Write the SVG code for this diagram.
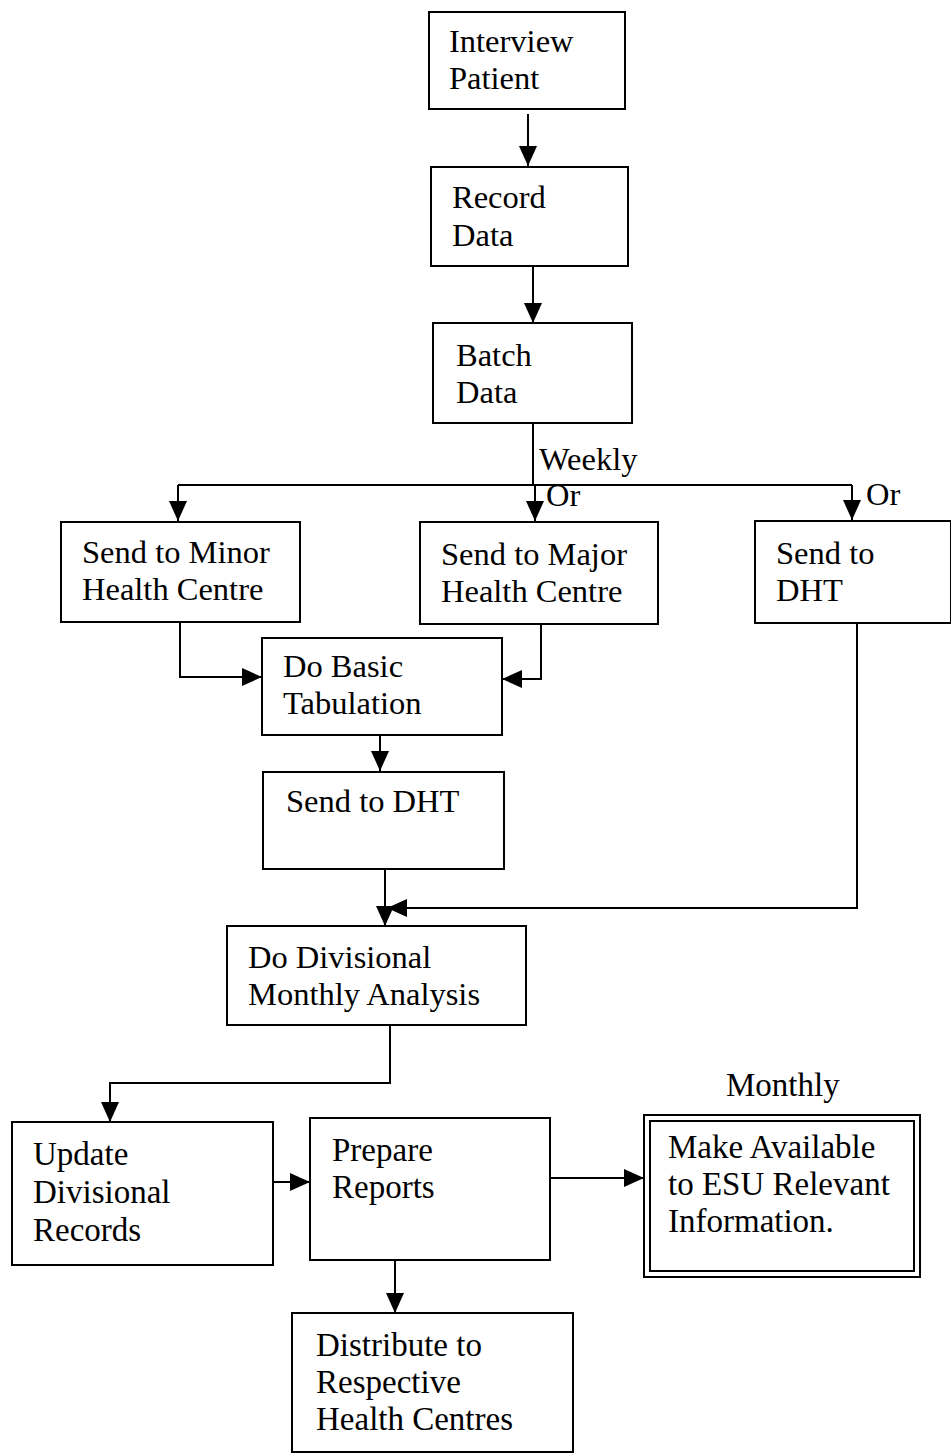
<svg xmlns="http://www.w3.org/2000/svg" width="951" height="1453" viewBox="0 0 951 1453">
  <style>
    .box { fill: #ffffff; stroke: #000000; stroke-width: 2; }
    .lbl { font-family: "Liberation Serif", "Times New Roman", serif; font-size: 32.5px; fill: #000000; }
    .lbl.lower { font-size: 33px; }
    .wire { fill: none; stroke: #000000; stroke-width: 2; }
  </style>
  <defs>
    <marker id="head" viewBox="0 0 20 20" refX="20" refY="10" markerWidth="20" markerHeight="20" markerUnits="userSpaceOnUse" orient="auto">
      <path d="M0,1 L20,10 L0,19 Z" fill="#000000"/>
    </marker>
  </defs>
  <rect width="951" height="1453" fill="#ffffff"/>

  <!-- connectors -->
  <g id="connectors" class="wire">
    <path d="M528,114 V166" marker-end="url(#head)"/>
    <path d="M533,266 V323" marker-end="url(#head)"/>
    <path d="M533,423 V485"/>
    <path d="M178,485 H852"/>
    <path d="M178,485 V521" marker-end="url(#head)"/>
    <path d="M535,485 V521" marker-end="url(#head)"/>
    <path d="M852,485 V520" marker-end="url(#head)"/>
    <path d="M180,622 V677 H262" marker-end="url(#head)"/>
    <path d="M541,624 V679 H502" marker-end="url(#head)"/>
    <path d="M380,735 V771" marker-end="url(#head)"/>
    <path d="M385,869 V926" marker-end="url(#head)"/>
    <path d="M857,623 V908 H387" marker-end="url(#head)"/>
    <path d="M390,1025 V1083 H110 V1122" marker-end="url(#head)"/>
    <path d="M273,1182 H310" marker-end="url(#head)"/>
    <path d="M550,1178 H644" marker-end="url(#head)"/>
    <path d="M395,1260 V1313" marker-end="url(#head)"/>
  </g>

  <!-- edge labels -->
  <g id="edge-labels">
    <text class="lbl" x="539" y="470">Weekly</text>
    <text class="lbl" x="546" y="506">Or</text>
    <text class="lbl" x="866" y="505">Or</text>
    <text class="lbl lower" x="726" y="1096">Monthly</text>
  </g>

  <g id="interview-patient">
    <rect class="box" x="429" y="12" width="196" height="97"/>
    <text class="lbl" x="449" y="52">Interview</text>
    <text class="lbl" x="449" y="89">Patient</text>
  </g>

  <g id="record-data">
    <rect class="box" x="431" y="167" width="197" height="99"/>
    <text class="lbl" x="452" y="208">Record</text>
    <text class="lbl" x="452" y="246">Data</text>
  </g>

  <g id="batch-data">
    <rect class="box" x="433" y="323" width="199" height="100"/>
    <text class="lbl" x="456" y="366">Batch</text>
    <text class="lbl" x="456" y="403">Data</text>
  </g>

  <g id="send-minor">
    <rect class="box" x="61" y="522" width="239" height="100"/>
    <text class="lbl" x="82" y="563">Send to Minor</text>
    <text class="lbl" x="82" y="600">Health Centre</text>
  </g>

  <g id="send-major">
    <rect class="box" x="420" y="522" width="238" height="102"/>
    <text class="lbl" x="441" y="565">Send to Major</text>
    <text class="lbl" x="441" y="602">Health Centre</text>
  </g>

  <g id="send-dht-direct">
    <rect class="box" x="755" y="521" width="196" height="102"/>
    <text class="lbl" x="776" y="564">Send to</text>
    <text class="lbl" x="776" y="601">DHT</text>
  </g>

  <g id="basic-tabulation">
    <rect class="box" x="262" y="638" width="240" height="97"/>
    <text class="lbl" x="283" y="677">Do Basic</text>
    <text class="lbl" x="283" y="714">Tabulation</text>
  </g>

  <g id="send-dht">
    <rect class="box" x="263" y="772" width="241" height="97"/>
    <text class="lbl" x="286" y="812">Send to DHT</text>
  </g>

  <g id="divisional-analysis">
    <rect class="box" x="227" y="926" width="299" height="99"/>
    <text class="lbl" x="248" y="968">Do Divisional</text>
    <text class="lbl" x="248" y="1005">Monthly Analysis</text>
  </g>

  <g id="update-records">
    <rect class="box" x="12" y="1122" width="261" height="143"/>
    <text class="lbl lower" x="33" y="1165">Update</text>
    <text class="lbl lower" x="33" y="1203">Divisional</text>
    <text class="lbl lower" x="33" y="1241">Records</text>
  </g>

  <g id="prepare-reports">
    <rect class="box" x="310" y="1118" width="240" height="142"/>
    <text class="lbl lower" x="332" y="1161">Prepare</text>
    <text class="lbl lower" x="332" y="1198">Reports</text>
  </g>

  <g id="make-available">
    <rect class="box" x="644" y="1115" width="276" height="162"/>
    <rect class="box" x="650" y="1121" width="264" height="150"/>
    <text class="lbl lower" x="668" y="1158">Make Available</text>
    <text class="lbl lower" x="668" y="1195">to ESU Relevant</text>
    <text class="lbl lower" x="668" y="1232">Information.</text>
  </g>

  <g id="distribute">
    <rect class="box" x="292" y="1313" width="281" height="139"/>
    <text class="lbl lower" x="316" y="1356">Distribute to</text>
    <text class="lbl lower" x="316" y="1393">Respective</text>
    <text class="lbl lower" x="316" y="1430">Health Centres</text>
  </g>
</svg>
